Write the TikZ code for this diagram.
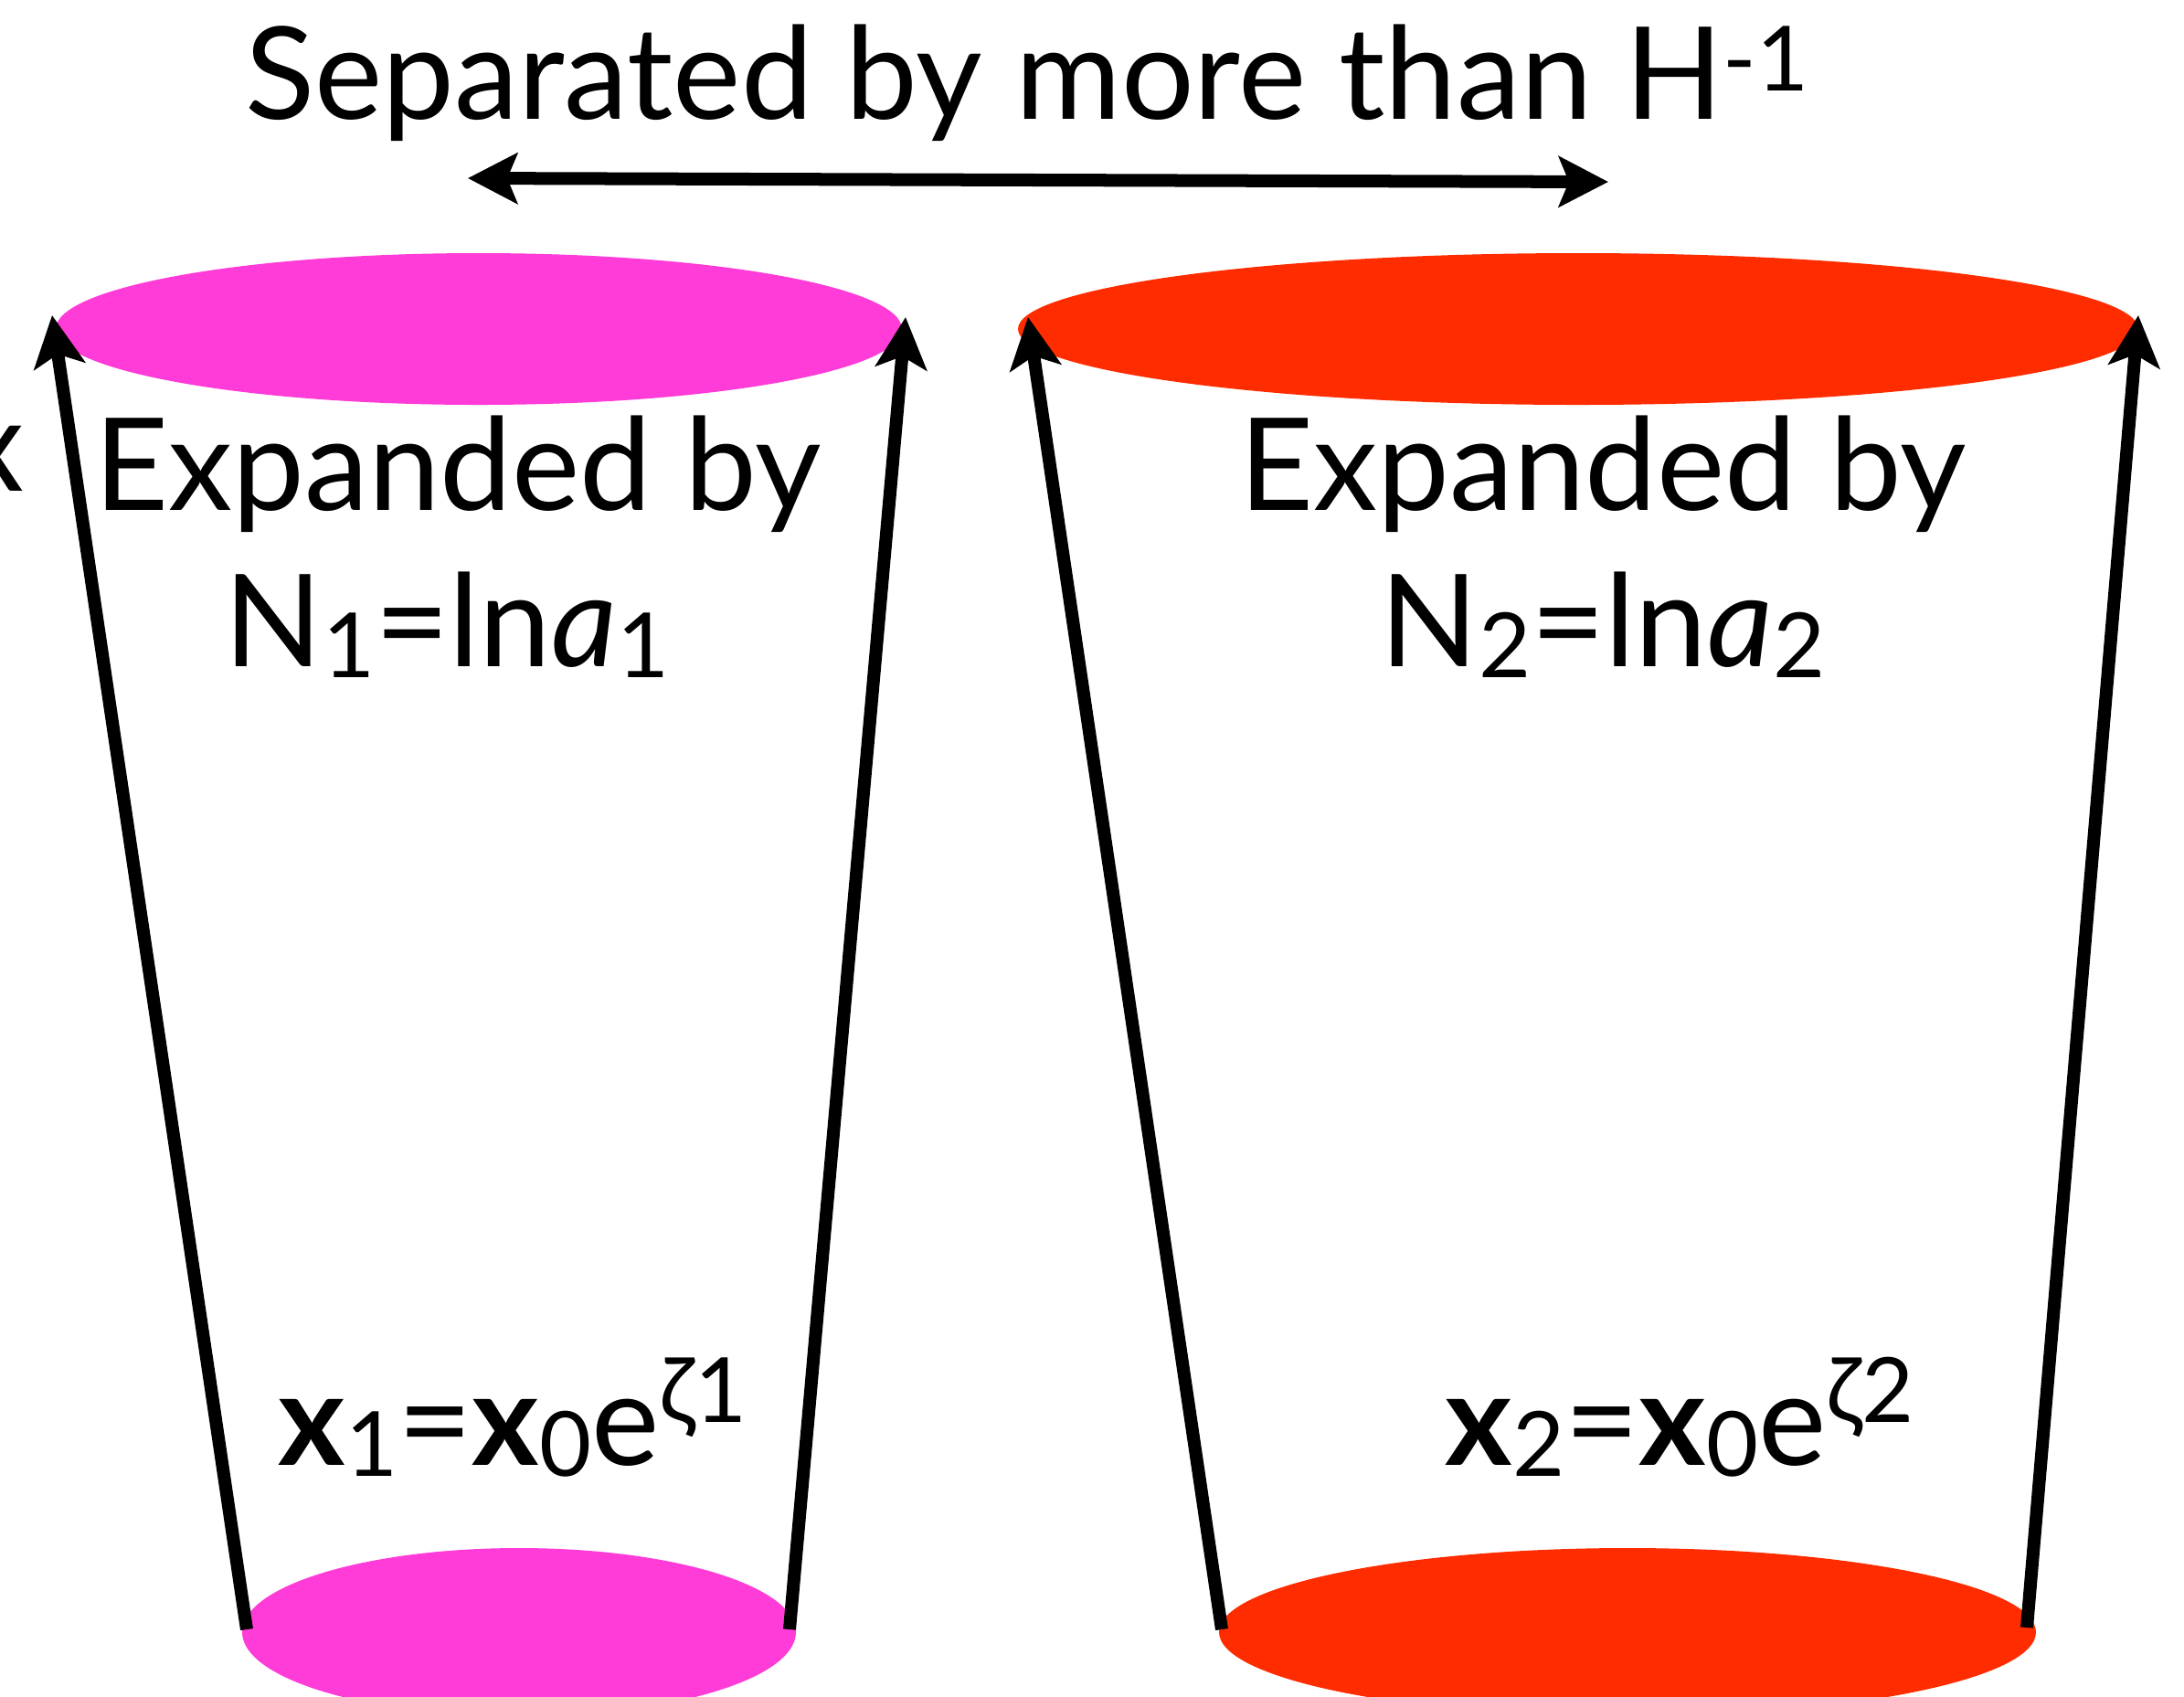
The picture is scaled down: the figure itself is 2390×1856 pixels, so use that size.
\documentclass[tikz,border=0pt]{standalone}
\usepackage{fontspec}
\setmainfont{Lato}
\usepackage{xcolor}
\usetikzlibrary{arrows.meta}

\definecolor{cupPink}{HTML}{FF3BD8}
\definecolor{cupRed}{HTML}{FF2C00}

\newcommand{\lowtx}[1]{\raisebox{-0.12cm}{\fontsize{28pt}{28pt}\selectfont #1}}
\newcommand{\hightx}[1]{\raisebox{0.46cm}{\fontsize{28pt}{28pt}\selectfont #1}}

\begin{document}
\begin{tikzpicture}[x=0.01cm, y=-0.01cm,
        lbl/.style={font=\fontsize{40pt}{48pt}\selectfont, anchor=base, inner sep=0pt},
        cupedge/.style={line width=0.14cm, -{Stealth[length=0.56cm, width=0.56cm, inset=0.13cm]}},
        gaparrow/.style={line width=0.14cm, {Stealth[length=0.54cm, width=0.55cm, inset=0.11cm]}-{Stealth[length=0.54cm, width=0.55cm, inset=0.11cm]}}]
        \useasboundingbox (0,0) rectangle (2390,1856);
        \clip (0,0) rectangle (2390,1856);

        % Discs
        \fill[cupPink] (524,360) ellipse [x radius=463, y radius=83];
        \fill[cupPink] (568,1786) ellipse [x radius=303, y radius=92];
        \fill[cupRed] (1727,360) ellipse [x radius=613, y radius=83];
        \fill[cupRed] (1781,1786) ellipse [x radius=447, y radius=92];

        % Arrow ends
        \coordinate (b1w) at (270,1783);
        \coordinate (t1w) at (57,345);
        \coordinate (b1e) at (864,1783);
        \coordinate (t1e) at (991,347);
        \coordinate (b2w) at (1337,1783);
        \coordinate (t2w) at (1125,347);
        \coordinate (b2e) at (2218,1781);
        \coordinate (t2e) at (2340,345);
        \coordinate (gapL) at (512,195);
        \coordinate (gapR) at (1760,199);

        % Expansion arrows
        \draw[cupedge] (b1w) -- (t1w);
        \draw[cupedge] (b1e) -- (t1e);
        \draw[cupedge] (b2w) -- (t2w);
        \draw[cupedge] (b2e) -- (t2e);
        \draw[gaparrow] (gapL) -- (gapR);

        % Labels
        \node[lbl] (title) at (1124,130) {Separated by more than H\raisebox{0.3cm}{\fontsize{28pt}{28pt}\selectfont -1}};
        \node[lbl] (cut) at (-8,537) {x};
        \node[lbl] (exp1) at (501,558) {Expanded by};
        \node[lbl] (eq1) at (489,729) {N\lowtx{1}=ln\textit{a}\lowtx{1}};
        \node[lbl] (exp2) at (1754,558) {Expanded by};
        \node[lbl] (eq2) at (1754,729) {N\lowtx{2}=ln\textit{a}\lowtx{2}};
        \node[lbl] (pos1) at (561,1603) {\textbf{x}\lowtx{1}=\textbf{x}\lowtx{0}e\hightx{ζ1}};
        \node[lbl] (pos2) at (1838,1603) {\textbf{x}\lowtx{2}=\textbf{x}\lowtx{0}e\hightx{ζ2}};
\end{tikzpicture}
\end{document}
